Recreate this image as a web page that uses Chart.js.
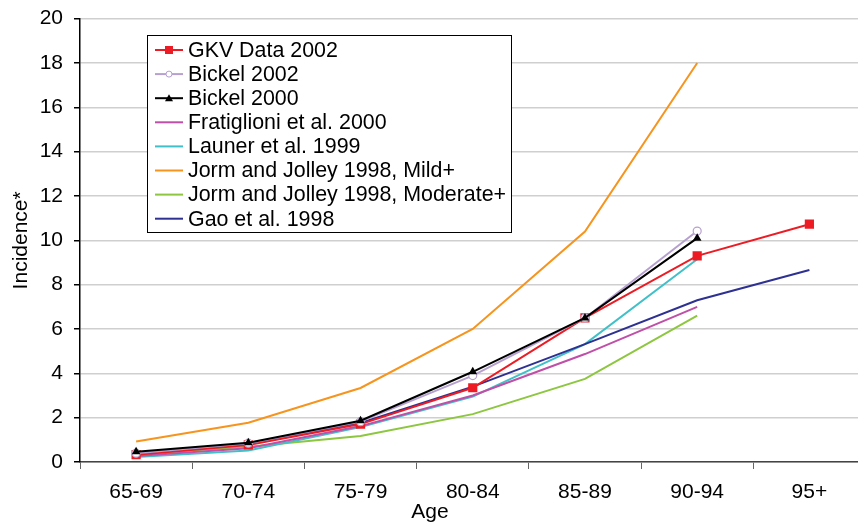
<!DOCTYPE html>
<html>
<head>
<meta charset="utf-8">
<script src="https://cdn.jsdelivr.net/npm/chart.js@4.4.0/dist/chart.umd.min.js"></script>
<style>
  html, body { margin: 0; padding: 0; background: #fff; overflow: hidden; }
  #wrap { width: 858px; height: 526px; overflow: hidden; position: relative; }
  #incChart { position: absolute; left: 0; top: 0; }
</style>
</head>
<body>
<div id="wrap"><canvas id="incChart" width="872" height="526"></canvas></div>
<script>
// age groups on the x axis
const ageGroups = ['65-69', '70-74', '75-79', '80-84', '85-89', '90-94', '95+'];

// incidence per series
const gkv2002      = [0.33, 0.77, 1.71, 3.35, 6.5, 9.3, 10.73];
const bickel2002   = [0.4, 0.85, 1.82, 3.9, 6.5, 10.42, null];
const bickel2000   = [0.46, 0.87, 1.86, 4.07, 6.5, 10.1, null];
const fratiglioni  = [0.27, 0.62, 1.62, 3.0, 4.87, 7.0, null];
const launer       = [0.22, 0.52, 1.58, 2.95, 5.32, 9.15, null];
const jormMild     = [0.92, 1.77, 3.34, 6.0, 10.4, 18.0, null];
const jormModerate = [0.35, 0.69, 1.17, 2.16, 3.75, 6.6, null];
const gao1998      = [0.38, 0.82, 1.76, 3.4, 5.32, 7.3, 8.66];

const yTicks = [0, 2, 4, 6, 8, 10, 12, 14, 16, 18, 20];

const FONT = '"Liberation Sans", Arial, sans-serif';

// legend drawn inside the plot, like the original
const boxLegend = {
    id: 'boxLegend',
    afterDraw(chart) {
        const ctx = chart.ctx;
        const x0 = 147.5, y0 = 35.5, w = 364, h = 197;
        ctx.save();
        ctx.fillStyle = '#fff';
        ctx.fillRect(x0, y0, w, h);
        ctx.strokeStyle = '#000';
        ctx.lineWidth = 1;
        ctx.strokeRect(x0, y0, w, h);

        const items = chart.data.datasets.slice().sort((a, b) => a.legendIdx - b.legendIdx);
        items.forEach((ds, i) => {
            const y = 50 + i * 24.1;
            ctx.strokeStyle = ds.borderColor;
            ctx.lineWidth = 2;
            ctx.beginPath();
            ctx.moveTo(155, y);
            ctx.lineTo(183, y);
            ctx.stroke();
            if (ds.pointStyle === 'rect') {
                ctx.fillStyle = ds.borderColor;
                ctx.fillRect(165, y - 4, 8, 8);
            } else if (ds.pointStyle === 'circle' && ds.pointRadius > 0) {
                ctx.fillStyle = '#fff';
                ctx.lineWidth = 1;
                ctx.beginPath();
                ctx.arc(169, y, 3, 0, Math.PI * 2);
                ctx.fill();
                ctx.stroke();
            } else if (ds.pointStyle === 'triangle') {
                ctx.fillStyle = ds.borderColor;
                ctx.beginPath();
                ctx.moveTo(169, y - 4);
                ctx.lineTo(173, y + 3);
                ctx.lineTo(165, y + 3);
                ctx.closePath();
                ctx.fill();
            }
            ctx.fillStyle = '#000';
            ctx.font = '21.4px ' + FONT;
            ctx.textBaseline = 'middle';
            ctx.textAlign = 'left';
            ctx.fillText(ds.label, 188, y + 1);
        });

        // x axis title, centred on the picture
        ctx.font = '21px ' + FONT;
        ctx.textAlign = 'center';
        ctx.textBaseline = 'middle';
        ctx.fillStyle = '#000';
        ctx.fillText('Age', 430, 512);
        ctx.restore();
    }
};

function line(label, data, color, extra, order, legendIdx) {
    return Object.assign({
        label: label,
        data: data,
        borderColor: color,
        backgroundColor: color,
        borderWidth: 2,
        pointRadius: 0,
        pointHoverRadius: 0,
        pointStyle: 'circle',
        tension: 0,
        spanGaps: false,
        order: order,
        legendIdx: legendIdx
    }, extra);
}

new Chart(document.getElementById('incChart'), {
    type: 'line',
    data: {
        labels: ageGroups,
        datasets: [
            line('GKV Data 2002', gkv2002, '#ED1C24', { pointStyle: 'rect', pointRadius: 6.5, pointBorderWidth: 0 }, 2, 0),
            line('Bickel 2002', bickel2002, '#B6A0D0', { pointRadius: 4, pointBackgroundColor: '#fff', pointBorderWidth: 1.2 }, 1, 1),
            line('Bickel 2000', bickel2000, '#000000', { pointStyle: 'triangle', pointRadius: 5, pointBorderWidth: 0 }, 0, 2),
            line('Fratiglioni et al. 2000', fratiglioni, '#C04FA8', {}, 6, 3),
            line('Launer et al. 1999', launer, '#40C0C8', {}, 7, 4),
            line('Jorm and Jolley 1998, Mild+', jormMild, '#F7941D', {}, 5, 5),
            line('Jorm and Jolley 1998, Moderate+', jormModerate, '#8DC63F', {}, 8, 6),
            line('Gao et al. 1998', gao1998, '#2E3192', {}, 3, 7)
        ]
    },
    options: {
        responsive: false,
        animation: false,
        layout: { padding: { top: 18.7, right: 0, bottom: 0, left: 0 } },
        plugins: {
            legend: { display: false },
            tooltip: { enabled: false }
        },
        scales: {
            x: {
                offset: true,
                grid: {
                    offset: true,
                    drawOnChartArea: false,
                    drawTicks: true,
                    tickLength: 7,
                    color: '#666'
                },
                border: { color: '#444', width: 1.5 },
                ticks: {
                    color: '#000',
                    font: { family: FONT, size: 21 },
                    padding: 11,
                    maxRotation: 0,
                    autoSkip: false
                },
                afterFit(scale) { scale.height = 64; }
            },
            y: {
                min: 0,
                max: 20,
                afterBuildTicks(scale) { scale.ticks = yTicks.map(v => ({ value: v })); },
                grid: {
                    color: '#cfcfcf',
                    lineWidth: 1.5,
                    drawTicks: true,
                    tickLength: 6,
                    tickColor: '#000'
                },
                border: { color: '#000', width: 1.5 },
                ticks: {
                    color: '#000',
                    font: { family: FONT, size: 21 },
                    padding: 11
                },
                title: {
                    display: true,
                    text: 'Incidence*',
                    color: '#000',
                    font: { family: FONT, size: 21 },
                    padding: { top: 9, bottom: 0 }
                },
                afterFit(scale) {
                    scale.width = 80;
                    scale.paddingTop = 0;
                    scale.paddingBottom = 0;
                }
            }
        }
    },
    plugins: [boxLegend]
});
</script>
</body>
</html>
